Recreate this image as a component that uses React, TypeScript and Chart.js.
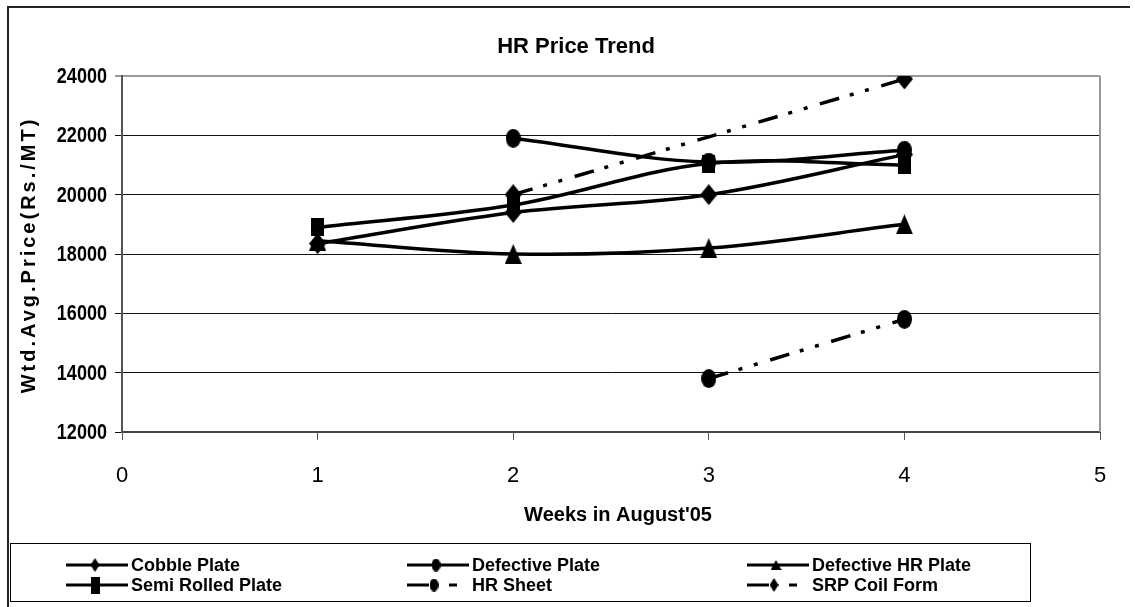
import React, { useEffect, useRef } from "react";
import { Chart, registerables } from "chart.js";

Chart.register(...registerables);

// ---------- data ----------
const weeks = [1, 2, 3, 4];
const cobblePlate = [18350, 19400, 20000, 21350];
const defectivePlate = [null, 21900, 21100, 21500];
const defectiveHRPlate = [18450, 18000, 18200, 19000];
const semiRolledPlate = [18900, 19650, 21050, 21000];
const hrSheet = [null, null, 13800, 15800];
const srpCoilForm = [null, 20000, null, 23900];

const seriesNames = [
  "Cobble Plate",
  "Defective Plate",
  "Defective HR Plate",
  "Semi Rolled Plate",
  "HR Sheet",
  "SRP Coil Form",
];
const yMin = 12000;
const yMax = 24000;
const yStep = 2000;
const xMin = 0;
const xMax = 5;
const xStep = 1;
const chartTitle = "HR Price Trend";
const xTitle = "Weeks in August'05";
const yTitle = "Wtd.Avg.Price(Rs./MT)";

const FONT = "'Liberation Sans', Arial, sans-serif";

function makeMarker(kind: string, w: number, h: number): HTMLCanvasElement {
  const c = document.createElement("canvas");
  c.width = w;
  c.height = h;
  const g = c.getContext("2d")!;
  g.fillStyle = "#000";
  g.beginPath();
  if (kind === "diamond") {
    g.moveTo(w / 2, 0);
    g.lineTo(w, h / 2);
    g.lineTo(w / 2, h);
    g.lineTo(0, h / 2);
    g.closePath();
  } else if (kind === "circle") {
    g.ellipse(w / 2, h / 2, w / 2, h / 2, 0, 0, Math.PI * 2);
  } else if (kind === "square") {
    g.rect(0, 0, w, h);
  } else {
    g.moveTo(w / 2, 0);
    g.lineTo(w, h);
    g.lineTo(0, h);
    g.closePath();
  }
  g.fill();
  return c;
}

export default function App() {
  const ref = useRef<HTMLCanvasElement | null>(null);

  useEffect(() => {
    document.body.style.margin = "0";
    const canvas = ref.current!;
    const kinds = ["diamond", "circle", "triangle", "square", "circle", "diamond"];
    const plotSizes: Record<string, [number, number]> = {
      diamond: [17, 21],
      circle: [15, 19],
      triangle: [17, 20],
      square: [13, 18],
    };
    const legendSizes: Record<string, [number, number]> = {
      diamond: [9, 14],
      circle: [9, 13],
      triangle: [11, 10],
      square: [9, 17],
    };
    const plotMarkers = kinds.map((k) => makeMarker(k, plotSizes[k][0], plotSizes[k][1]));
    const legendMarkers = kinds.map((k) => makeMarker(k, legendSizes[k][0], legendSizes[k][1]));
    const seriesValues = [cobblePlate, defectivePlate, defectiveHRPlate, semiRolledPlate, hrSheet, srpCoilForm];
    const dashed = [false, false, false, false, true, true];
    const dashPattern = [20, 11, 4, 12, 4, 13];

    const datasets = seriesValues.map((vals, i) => ({
      label: seriesNames[i],
      data: weeks.map((w, j) => ({ x: w, y: vals[j] })),
      borderColor: "#000",
      backgroundColor: "#000",
      borderWidth: 3.5,
      borderDash: dashed[i] ? dashPattern : [],
      pointStyle: plotMarkers[i],
      pointRadius: 8,
      tension: 0.35,
      spanGaps: true,
      fill: false,
    }));

    const decor = {
      id: "decor",
      afterDraw(chart: any) {
        const ctx = chart.ctx as CanvasRenderingContext2D;
        const ca = chart.chartArea;
        ctx.save();
        // plot area right border
        ctx.strokeStyle = "#999";
        ctx.lineWidth = 2;
        ctx.beginPath();
        ctx.moveTo(ca.right, ca.top);
        ctx.lineTo(ca.right, ca.bottom);
        ctx.stroke();
        // outer frame (top and left visible)
        ctx.strokeStyle = "#222";
        ctx.lineWidth = 2;
        ctx.beginPath();
        ctx.moveTo(8, 607);
        ctx.lineTo(8, 7);
        ctx.lineTo(1130, 7);
        ctx.stroke();
        ctx.fillStyle = "#000";
        // y tick labels (condensed, from the y scale's own ticks)
        const ys = chart.scales.y;
        ctx.font = `bold 22px ${FONT}`;
        ctx.textAlign = "right";
        ctx.textBaseline = "middle";
        ys.ticks.forEach((t: any) => {
          const py = ys.getPixelForValue(t.value);
          ctx.save();
          ctx.translate(ca.left - 15, py + 1);
          ctx.scale(0.82, 1);
          ctx.fillText(String(t.value), 0, 0);
          ctx.restore();
        });
        // title
        ctx.textAlign = "center";
        ctx.textBaseline = "middle";
        ctx.font = `bold 22px ${FONT}`;
        ctx.fillText(chartTitle, 576, 47);
        // x title
        ctx.font = `bold 20px ${FONT}`;
        ctx.fillText(xTitle, 618, 515);
        // y title
        ctx.save();
        ctx.translate(29, 255);
        ctx.rotate(-Math.PI / 2);
        (ctx as any).letterSpacing = "3px";
        ctx.font = `bold 20px ${FONT}`;
        ctx.fillText(yTitle, 0, 0);
        ctx.restore();
        // legend box
        ctx.strokeStyle = "#000";
        ctx.lineWidth = 1;
        ctx.strokeRect(10.5, 543.5, 1020, 58);
        const colX = [66, 407, 747];
        const rowY = [565, 585];
        ctx.font = `bold 18px ${FONT}`;
        ctx.textAlign = "left";
        ctx.textBaseline = "middle";
        ctx.lineWidth = 3;
        seriesNames.forEach((name, i) => {
          const x0 = colX[i % 3];
          const y = rowY[Math.floor(i / 3)];
          ctx.strokeStyle = "#000";
          ctx.beginPath();
          if (dashed[i]) {
            ctx.moveTo(x0, y);
            ctx.lineTo(x0 + 22, y);
            ctx.moveTo(x0 + 42, y);
            ctx.lineTo(x0 + 50, y);
          } else {
            ctx.moveTo(x0, y);
            ctx.lineTo(x0 + 62, y);
          }
          ctx.stroke();
          const m = legendMarkers[i];
          const mx = dashed[i] ? x0 + 27 : x0 + 29;
          ctx.drawImage(m, mx - m.width / 2, y - m.height / 2);
          ctx.fillText(name, x0 + 65, y + 1);
        });
        ctx.restore();
      },
    };

    const chart = new Chart(canvas, {
      type: "line",
      data: { datasets: datasets as any },
      plugins: [decor],
      options: {
        animation: false,
        responsive: false,
        devicePixelRatio: 1,
        layout: { padding: { top: 76, right: 35, left: 0, bottom: 0 } },
        plugins: {
          legend: { display: false },
          title: { display: false },
          tooltip: { enabled: false },
        },
        scales: {
          x: {
            type: "linear",
            min: xMin,
            max: xMax,
            afterFit: (s: any) => {
              s.height = 175;
            },
            ticks: {
              stepSize: xStep,
              color: "#000",
              padding: 23,
              font: { family: FONT, size: 22 },
              callback: (v: any) => String(v),
            },
            grid: {
              drawOnChartArea: false,
              drawTicks: true,
              tickLength: 8,
              color: "#555",
            },
            border: { display: true, color: "#444", width: 2 },
          },
          y: {
            min: yMin,
            max: yMax,
            afterFit: (s: any) => {
              s.width = 122;
            },
            ticks: {
              stepSize: yStep,
              display: false,
              color: "#000",
              padding: 8,
              font: { family: FONT, size: 19, weight: "bold" },
              callback: (v: any) => String(v),
            },
            grid: {
              drawTicks: true,
              tickLength: 7,
              color: (c: any) => (c.tick && c.tick.value === yMax ? "#999" : "#111"),
              lineWidth: (c: any) => (c.tick && c.tick.value === yMax ? 2 : 1),
            },
            border: { display: true, color: "#555", width: 2 },
          },
        },
      } as any,
    });
    return () => chart.destroy();
  }, []);

  return (
    <div style={{ width: 1135, height: 607, background: "#fff" }}>
      <canvas ref={ref} width={1135} height={607} style={{ display: "block" }} />
    </div>
  );
}
